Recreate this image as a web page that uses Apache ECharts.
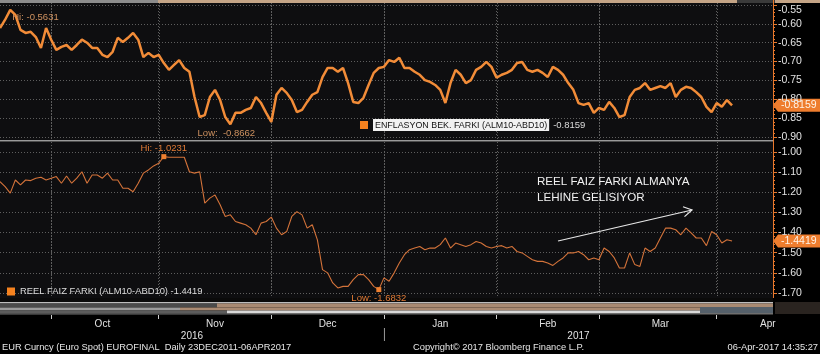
<!DOCTYPE html>
<html>
<head>
<meta charset="utf-8">
<script src="https://cdn.jsdelivr.net/npm/echarts@6/dist/echarts.min.js"></script>
<style>
html,body{margin:0;padding:0;background:#000;}
#c{width:820px;height:354px;}
</style>
</head>
<body>
<div id="c"></div>
<script>
// Business days, 19 Sep 2016 - 18 Apr 2017
const dates = [
'2016-09-19','2016-09-20','2016-09-21','2016-09-22','2016-09-23','2016-09-26','2016-09-27','2016-09-28','2016-09-29','2016-09-30',
'2016-10-03','2016-10-04','2016-10-05','2016-10-06','2016-10-07','2016-10-10','2016-10-11','2016-10-12','2016-10-13','2016-10-14','2016-10-17','2016-10-18','2016-10-19','2016-10-20','2016-10-21','2016-10-24','2016-10-25','2016-10-26','2016-10-27','2016-10-28','2016-10-31',
'2016-11-01','2016-11-02','2016-11-03','2016-11-04','2016-11-07','2016-11-08','2016-11-09','2016-11-10','2016-11-11','2016-11-14','2016-11-15','2016-11-16','2016-11-17','2016-11-18','2016-11-21','2016-11-22','2016-11-23','2016-11-24','2016-11-25','2016-11-28','2016-11-29','2016-11-30',
'2016-12-01','2016-12-02','2016-12-05','2016-12-06','2016-12-07','2016-12-08','2016-12-09','2016-12-12','2016-12-13','2016-12-14','2016-12-15','2016-12-16','2016-12-19','2016-12-20','2016-12-21','2016-12-22','2016-12-23','2016-12-26','2016-12-27','2016-12-28','2016-12-29','2016-12-30',
'2017-01-02','2017-01-03','2017-01-04','2017-01-05','2017-01-06','2017-01-09','2017-01-10','2017-01-11','2017-01-12','2017-01-13','2017-01-16','2017-01-17','2017-01-18','2017-01-19','2017-01-20','2017-01-23','2017-01-24','2017-01-25','2017-01-26','2017-01-27','2017-01-30','2017-01-31',
'2017-02-01','2017-02-02','2017-02-03','2017-02-06','2017-02-07','2017-02-08','2017-02-09','2017-02-10','2017-02-13','2017-02-14','2017-02-15','2017-02-16','2017-02-17','2017-02-20','2017-02-21','2017-02-22','2017-02-23','2017-02-24','2017-02-27','2017-02-28',
'2017-03-01','2017-03-02','2017-03-03','2017-03-06','2017-03-07','2017-03-08','2017-03-09','2017-03-10','2017-03-13','2017-03-14','2017-03-15','2017-03-16','2017-03-17','2017-03-20','2017-03-21','2017-03-22','2017-03-23','2017-03-24','2017-03-27','2017-03-28','2017-03-29','2017-03-30','2017-03-31',
'2017-04-03','2017-04-04','2017-04-05','2017-04-06','2017-04-07','2017-04-10','2017-04-11','2017-04-12','2017-04-13','2017-04-14','2017-04-17','2017-04-18'
];

// Month label placement (middle of each month) and year labels
const monthLabelAt = {'2016-10-17':'Oct','2016-11-16':'Nov','2016-12-16':'Dec','2017-01-17':'Jan','2017-02-15':'Feb','2017-03-17':'Mar','2017-04-17':'Apr'};
const yearLabels = ['2016','2017'];

const nameTop = 'ENFLASYON BEK. FARKI (ALM10-ABD10)';
const nameBot = 'REEL FAIZ FARKI (ALM10-ABD10)';

// ENFLASYON BEK. FARKI (ALM10-ABD10)
const inflationSpread = [
-0.611,-0.589,-0.5631,-0.576,-0.616,-0.624,-0.621,-0.635,-0.664,-0.611,
-0.642,-0.669,-0.661,-0.656,-0.669,-0.656,-0.642,-0.650,-0.664,-0.664,
-0.682,-0.688,-0.674,-0.637,-0.648,-0.637,-0.624,-0.642,-0.688,-0.677,
-0.688,-0.682,-0.704,-0.722,-0.709,-0.696,-0.717,-0.727,-0.794,-0.847,
-0.842,-0.794,-0.775,-0.802,-0.847,-0.8662,-0.836,-0.836,-0.828,-0.823,
-0.794,-0.810,-0.836,-0.860,-0.788,-0.770,-0.783,-0.802,-0.834,-0.828,
-0.807,-0.788,-0.781,-0.741,-0.717,-0.717,-0.727,-0.717,-0.757,-0.807,
-0.810,-0.796,-0.762,-0.730,-0.717,-0.714,-0.696,-0.701,-0.690,-0.717,
-0.717,-0.727,-0.735,-0.749,-0.754,-0.762,-0.775,-0.810,-0.757,-0.722,
-0.735,-0.757,-0.749,-0.722,-0.714,-0.701,-0.714,-0.743,-0.735,-0.730,
-0.722,-0.704,-0.701,-0.722,-0.727,-0.722,-0.730,-0.741,-0.714,-0.722,
-0.735,-0.757,-0.775,-0.810,-0.815,-0.810,-0.836,-0.823,-0.828,-0.807,
-0.823,-0.847,-0.842,-0.794,-0.775,-0.770,-0.757,-0.775,-0.770,-0.765,
-0.770,-0.757,-0.794,-0.775,-0.767,-0.770,-0.781,-0.794,-0.820,-0.834,
-0.810,-0.820,-0.802,-0.8159
];

// REEL FAIZ FARKI (ALM10-ABD10)
const realRateSpread = [
-1.147,-1.172,-1.204,-1.139,-1.163,-1.139,-1.142,-1.130,-1.125,-1.139,
-1.130,-1.122,-1.155,-1.119,-1.155,-1.130,-1.098,-1.155,-1.114,-1.114,
-1.130,-1.105,-1.139,-1.139,-1.180,-1.180,-1.197,-1.155,-1.105,-1.089,
-1.069,-1.056,-1.0231,-1.026,-1.026,-1.026,-1.026,-1.098,-1.105,-1.098,
-1.254,-1.229,-1.213,-1.262,-1.320,-1.312,-1.345,-1.353,-1.361,-1.378,
-1.411,-1.353,-1.345,-1.323,-1.378,-1.411,-1.395,-1.320,-1.296,-1.312,
-1.378,-1.361,-1.436,-1.584,-1.600,-1.650,-1.675,-1.667,-1.667,-1.634,
-1.609,-1.609,-1.634,-1.667,-1.6832,-1.625,-1.642,-1.600,-1.551,-1.510,
-1.485,-1.477,-1.469,-1.485,-1.477,-1.477,-1.460,-1.427,-1.477,-1.452,
-1.460,-1.469,-1.460,-1.444,-1.452,-1.469,-1.477,-1.469,-1.465,-1.477,
-1.469,-1.494,-1.501,-1.518,-1.535,-1.543,-1.543,-1.551,-1.563,-1.543,
-1.526,-1.501,-1.501,-1.494,-1.510,-1.535,-1.526,-1.535,-1.477,-1.494,
-1.526,-1.576,-1.576,-1.501,-1.559,-1.568,-1.477,-1.494,-1.477,-1.427,
-1.378,-1.378,-1.386,-1.411,-1.378,-1.402,-1.427,-1.427,-1.465,-1.395,
-1.411,-1.452,-1.436,-1.4419
];

const FONT = "'Liberation Sans', Arial, sans-serif";
const ORANGE = '#f28c38';
const AXIS_OR = '#e8782c';
const GRIDC = '#5e5e5e';

function isMonthStart(i){ return i > 0 && dates[i].slice(0,7) !== dates[i-1].slice(0,7); }

const chart = echarts.init(document.getElementById('c'), null, {renderer:'canvas'});

function yAxisCfg(grid, min, max, interval, labelExtra){
  return {
    type:'value', gridIndex:grid, position:'right', min:min, max:max, interval:interval,
    axisLine:{show:true, lineStyle:{color:AXIS_OR, width:1}},
    axisTick:{show:true, length:4, lineStyle:{color:AXIS_OR}},
    minorTick:{show:true, splitNumber:5, length:2, lineStyle:{color:AXIS_OR}},
    axisLabel:Object.assign({color:'#e2e2e2', fontSize:10.5, fontFamily:FONT, margin:5, formatter:v=>v.toFixed(2)}, labelExtra||{}),
    splitLine:{show:true, lineStyle:{color:GRIDC, type:[1,2], width:1}}
  };
}

const option = {
  backgroundColor:'#000',
  animation:false,
  textStyle:{fontFamily:FONT},
  grid:[
    {left:0, right:47, top:5, height:132},
    {left:0, right:47, top:152, height:141}
  ],
  xAxis:[
    {type:'category', gridIndex:0, data:dates, boundaryGap:false,
     axisLine:{show:false}, axisTick:{show:false, interval:(i)=>isMonthStart(i)}, axisLabel:{show:false},
     splitLine:{show:true, interval:(i)=>isMonthStart(i), lineStyle:{color:GRIDC, type:[1,2], width:1}}},
    {type:'category', gridIndex:1, data:dates, boundaryGap:false, offset:22,
     axisLine:{show:false},
     axisTick:{show:true, interval:(i)=>isMonthStart(i), length:4, lineStyle:{color:'#cfcfcf'}},
     axisLabel:{show:true, interval:(i,v)=>!!monthLabelAt[v], formatter:(v)=>monthLabelAt[v]||'', color:'#e2e2e2', fontSize:10, margin:4, fontFamily:FONT},
     splitLine:{show:true, interval:(i)=>isMonthStart(i), lineStyle:{color:GRIDC, type:[1,2], width:1}}}
  ],
  yAxis:[
    yAxisCfg(0, -0.90, -0.55, 0.05, {verticalAlignMaxLabel:'top'}),
    yAxisCfg(1, -1.70, -1.00, 0.10)
  ],
  legend:[
    {left:360, top:119, padding:0, data:[nameTop], icon:'rect', itemWidth:8, itemHeight:8, itemGap:0, selectedMode:false,
     itemStyle:{color:'#f5821f'},
     formatter:(n)=>'{a|'+n+'}{b|'+inflationSpread[inflationSpread.length-1]+'}',
     textStyle:{rich:{a:{backgroundColor:'#f2f2f2', color:'#111', fontSize:8.9, fontFamily:FONT, padding:[2,2,1,2]},
                      b:{color:'#dcdcdc', fontSize:9.5, fontFamily:FONT, padding:[0,0,0,4]}}}},
    {left:7, top:287, padding:0, data:[nameBot], icon:'rect', itemWidth:8, itemHeight:8, itemGap:0, selectedMode:false,
     itemStyle:{color:'#f5821f'},
     formatter:(n)=>n+' '+realRateSpread[realRateSpread.length-1],
     textStyle:{color:'#dcdcdc', fontSize:9.4, fontFamily:FONT}}
  ],
  series:[
    {name:nameTop, type:'line', xAxisIndex:0, yAxisIndex:0, data:inflationSpread, showSymbol:false,
     lineStyle:{color:ORANGE, width:2.5}, itemStyle:{color:ORANGE},
     markPoint:{symbol:'circle', symbolSize:0, silent:true, data:[
       {type:'max', name:'Hi', label:{show:true, position:'right', distance:0, offset:[2,7], color:'#cf9260', fontSize:9.5, fontFamily:FONT, formatter:(p)=>'Hi: '+p.value}},
       {type:'min', name:'Low', label:{show:true, position:'bottom', distance:4, offset:[-4,0], color:'#cf9260', fontSize:9.5, fontFamily:FONT, formatter:(p)=>'Low:  '+p.value}}
     ]}},
    {name:nameBot, type:'line', xAxisIndex:1, yAxisIndex:1, data:realRateSpread, showSymbol:false,
     lineStyle:{color:'#d4733a', width:1.1}, itemStyle:{color:'#d4733a'},
     markPoint:{symbol:'rect', symbolSize:5, silent:true, itemStyle:{color:'#f08030'}, data:[
       {type:'max', name:'Hi', label:{show:true, position:'top', distance:1, color:'#e07a35', fontSize:9.5, fontFamily:FONT, formatter:(p)=>'Hi: '+p.value}},
       {type:'min', name:'Low', label:{show:true, position:'bottom', distance:1, color:'#e07a35', fontSize:9.5, fontFamily:FONT, formatter:(p)=>'Low: '+p.value}}
     ]}}
  ]
};
chart.setOption(option);

// decorations that depend on the library's scales
function priceTag(y, txt){
  return {type:'group', z:100, children:[
    {type:'polygon', shape:{points:[[773,y],[778,y-6.5],[820,y-6.5],[820,y+6.5],[778,y+6.5]]}, style:{fill:'#ee7d2e'}},
    {type:'text', x:781, y:y, style:{text:txt, fill:'#fff3e6', font:'10.5px '+FONT, textVerticalAlign:'middle'}}
  ]};
}
const lastTop = inflationSpread[inflationSpread.length-1];
const lastBot = realRateSpread[realRateSpread.length-1];
const yTop = chart.convertToPixel({yAxisIndex:0}, lastTop);
const yBot = chart.convertToPixel({yAxisIndex:1}, lastBot);
const x0 = chart.convertToPixel({xAxisIndex:1}, dates[0]);
const xJan = chart.convertToPixel({xAxisIndex:1}, '2017-01-02');
const xEnd = chart.convertToPixel({xAxisIndex:1}, dates[dates.length-1]);

// month-start verticals (dotted), positioned through the category scale
const monthLines = [];
dates.forEach((d,i)=>{
  if(isMonthStart(i)){
    const x = Math.round(chart.convertToPixel({xAxisIndex:0}, d)) + 0.5;
    monthLines.push({type:'line', z:1, silent:true, shape:{x1:x,y1:3,x2:x,y2:140}, style:{stroke:GRIDC, lineWidth:1, lineDash:[1,2]}});
    monthLines.push({type:'line', z:1, silent:true, shape:{x1:x,y1:142,x2:x,y2:298}, style:{stroke:GRIDC, lineWidth:1, lineDash:[1,2]}});
  }
});

const rect = (x,y,w,h,fill,z)=>({type:'rect', z:z===undefined?-10:z, silent:true, shape:{x:x,y:y,width:w,height:h}, style:{fill:fill}});
const text = (x,y,t,size,fill,align)=>({type:'text', z:50, silent:true, x:x, y:y, style:{text:t, fill:fill, font:size+'px '+FONT, textAlign:align||'left', textVerticalAlign:'middle'}});

chart.setOption({graphic:[
  // panel backgrounds
  rect(0,3,773,137,'#0e0e10'),
  rect(0,142,773,156,'#0e0e10'),
  // top band
  rect(0,0,158,3,'#8c8c8c',5), rect(158,0,662,3,'#c4a486',5), rect(737,0,38,3,'#3a3a3a',6),
  // separator
  rect(0,140,773,1.6,'#9a9a9a',5),
  // navigator strip
  rect(0,298,773,4,'#0a0a0a',5),
  rect(0,302,773,1.5,'#bdbdbd',5),
  rect(0,303.5,217,4,'#4a4a4a',5), rect(217,303.5,556,4,'#a98a72',5),
  rect(0,307.5,180,3,'#9a9a9a',5), rect(180,307.5,593,3,'#a98a72',5),
  rect(0,310.5,227,3,'#5c5c5c',5), rect(227,310.5,546,3,'#d8d8d8',5),
  rect(700,307,73,6,'#55606a',6),
  rect(0,313.5,773,1,'#707070',5),
  rect(775,302,45,12,'#2a2420',5),
  // right axis full-height line
  {type:'line', z:6, silent:true, shape:{x1:773.5,y1:0,x2:773.5,y2:298}, style:{stroke:AXIS_OR, lineWidth:1}},
  // year labels and divider
  text((x0+xJan)/2, 336, yearLabels[0], 10, '#e2e2e2', 'center'),
  text((xJan+xEnd)/2, 336, yearLabels[1], 10, '#e2e2e2', 'center'),
  {type:'line', z:6, silent:true, shape:{x1:xJan+0.5,y1:328,x2:xJan+0.5,y2:341}, style:{stroke:'#9a9a9a', lineWidth:1}},
  // annotation
  text(537, 182, 'REEL FAIZ FARKI ALMANYA', 11.6, '#f2f2f2'),
  text(537, 198, 'LEHINE GELISIYOR', 11.6, '#f2f2f2'),
  {type:'line', z:50, silent:true, shape:{x1:558,y1:241,x2:692,y2:210}, style:{stroke:'#e8e8e8', lineWidth:1.2}},
  {type:'polyline', z:50, silent:true, shape:{points:[[683,206.8],[692,210],[684.5,216.6]]}, style:{stroke:'#e8e8e8', lineWidth:1.2, fill:null}},
  // footer
  text(2, 347, 'EUR Curncy (Euro Spot) EUROFINAL  Daily 23DEC2011-06APR2017', 9.3, '#e6e6e6'),
  text(413, 347, 'Copyright\u00A9 2017 Bloomberg Finance L.P.', 9.3, '#e6e6e6'),
  text(818, 347, '06-Apr-2017 14:35:27', 9.3, '#e6e6e6', 'right'),
  // last value tags
  priceTag(yTop, lastTop.toFixed(4)),
  priceTag(yBot, lastBot.toFixed(4))
].concat(monthLines)});
</script>
</body>
</html>
